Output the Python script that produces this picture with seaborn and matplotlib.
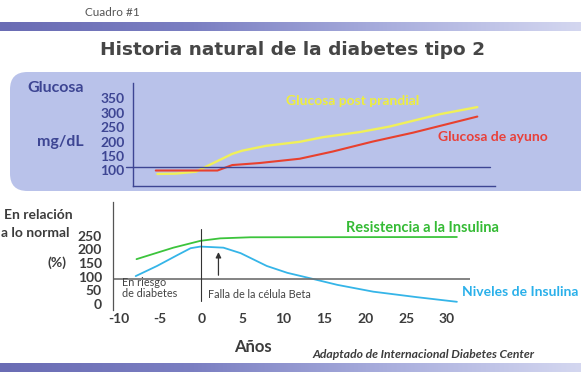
import numpy as np
import matplotlib.pyplot as plt
import seaborn as sns
from matplotlib.patches import FancyBboxPatch
from matplotlib.colors import LinearSegmentedColormap

anios_ayuno = [-5.4, 2.1, 3.9, 7.2, 12.1, 16.1, 21.0, 25.9, 29.1, 33.7]
glucosa_ayuno = [99, 99, 118, 125, 140, 165, 200, 231, 254, 287]

anios_prandial = [-5.2, -3.0, -0.5, 1.1, 3.9, 5.1, 8.0, 12.1, 14.9, 19.4, 23.0, 29.1, 33.7]
glucosa_prandial = [87, 88, 95, 118, 157, 168, 185, 199, 215, 233, 252, 295, 320]

anios_resist = [-7.9, -3.4, -0.1, 2.3, 6.0, 31.2]
resistencia = [164, 206, 231, 240, 244, 245]

anios_insulina = [-8.0, -5.4, -2.9, -1.3, -0.1, 2.7, 4.8, 8.0, 10.5, 13.3, 16.6, 21.0, 26.3, 31.2]
insulina = [102, 139, 179, 204, 210, 206, 186, 139, 114, 94, 70, 45, 25, 8]

ticks_anios = [-10, -5, 0, 5, 10, 15, 20, 25, 30]
ticks_glucosa = [100, 150, 200, 250, 300, 350]
ticks_relacion = [0, 50, 100, 150, 200, 250]

sns.set_theme(style="white")
plt.rcParams['font.family'] = ['Lato', 'DejaVu Sans']
plt.rcParams['axes.unicode_minus'] = False

W, H = 581, 380
fig = plt.figure(figsize=(W / 100, H / 100), dpi=100)
fig.patch.set_facecolor('white')

def caja(x0, y0, x1, y1):
    # pixeles (origen arriba-izquierda) -> fraccion de figura
    return [x0 / W, 1 - y1 / H, (x1 - x0) / W, (y1 - y0) / H]

# barras con degradado arriba y abajo
grad_cmap = LinearSegmentedColormap.from_list('barra', ['#6a6cb4', '#7b7fc2', '#a9aedd', '#d4d7f0'])
grad = np.linspace(0, 1, 256).reshape(1, -1)
for y0, y1 in [(22, 31), (363, 372)]:
    axb = fig.add_axes(caja(0, y0, W, y1))
    axb.imshow(grad, aspect='auto', cmap=grad_cmap)
    axb.axis('off')

fig.text(85 / W, 1 - 13 / H, 'Cuadro #1', fontsize=8.5, color='#555555', va='center')
fig.text(293 / W, 1 - 50 / H, 'Historia natural de la diabetes tipo 2', fontsize=13.3,
         fontweight='bold', color='#464646', ha='center', va='center', family='DejaVu Sans')

# fondo azul del panel de glucosa
fig.patches.append(FancyBboxPatch((10 / W, 1 - 191 / H), 600 / W, 119 / H,
                                  boxstyle='round,pad=0,rounding_size=0.03',
                                  transform=fig.transFigure, facecolor='#b9c2ea',
                                  edgecolor='none', zorder=-1, mutation_aspect=W / H))

navy = '#3d4593'
ax1 = fig.add_axes(caja(133, 83, 495, 186))
ax1.patch.set_alpha(0)
sns.lineplot(x=anios_prandial, y=glucosa_prandial, ax=ax1, color='#f0f05a', lw=1.7, estimator=None)
sns.lineplot(x=anios_ayuno, y=glucosa_ayuno, ax=ax1, color='#e8402e', lw=1.5, estimator=None)
ax1.axhline(110, xmin=-0.02, xmax=0.986, color=navy, lw=1, clip_on=False)
ax1.set_xlim(-8.17, 35.85)
ax1.set_ylim(45, 404)
ax1.set_xticks([])
ax1.set_yticks(ticks_glucosa)
ax1.tick_params(axis='y', length=0, pad=6, labelsize=10, labelcolor=navy)
for t in ax1.get_yticklabels():
    t.set_fontweight('bold')
for s in ['top', 'right']:
    ax1.spines[s].set_visible(False)
for s in ['left', 'bottom']:
    ax1.spines[s].set_color(navy)
    ax1.spines[s].set_linewidth(1)

fig.text(56 / W, 1 - 88 / H, 'Glucosa', fontsize=11.5, fontweight='bold', color=navy, ha='center', va='center')
fig.text(60 / W, 1 - 142 / H, 'mg/dL', fontsize=11.5, fontweight='bold', color=navy, ha='center', va='center')
fig.text(353 / W, 1 - 101 / H, 'Glucosa post prandial', fontsize=10, fontweight='bold',
         color='#eeee3c', ha='center', va='center')
fig.text(493 / W, 1 - 137 / H, 'Glucosa de ayuno', fontsize=10, fontweight='bold',
         color='#e8403a', ha='center', va='center')

# panel de insulina
gris = '#3c3c3c'
ax2 = fig.add_axes(caja(113, 202, 470, 310))
ax2.patch.set_alpha(0)
sns.lineplot(x=anios_resist, y=resistencia, ax=ax2, color='#3cc43c', lw=1.3, estimator=None)
sns.lineplot(x=anios_insulina, y=insulina, ax=ax2, color='#35b5e8', lw=1.3, estimator=None)
ax2.axhline(93, color='#6e6e6e', lw=1.2)
ax2.plot([0, 0], [10, 275], color='#333333', lw=0.8)
ax2.annotate('', xy=(2.1, 200), xytext=(2.1, 95),
             arrowprops=dict(arrowstyle='-|>', color='#333333', lw=0.9, mutation_scale=8))
ax2.set_xlim(-10.77, 32.8)
ax2.set_ylim(-22, 373)
ax2.set_xticks(ticks_anios)
ax2.set_yticks(ticks_relacion)
ax2.tick_params(length=0, labelsize=10, labelcolor=gris)
ax2.tick_params(axis='x', pad=2)
ax2.tick_params(axis='y', pad=8)
for t in ax2.get_xticklabels() + ax2.get_yticklabels():
    t.set_fontweight('bold')
for s in ['top', 'right', 'bottom']:
    ax2.spines[s].set_visible(False)
ax2.spines['left'].set_color('#555555')
ax2.spines['left'].set_linewidth(0.9)

ax2.text(-9.7, 60, 'En riesgo\nde diabetes', fontsize=7.8, color='#444444', va='center', linespacing=1.0)
ax2.text(0.8, 36, 'Falla de la célula Beta', fontsize=7.8, color='#444444', va='center')

fig.text(4 / W, 1 - 215 / H, 'En relación', fontsize=10, fontweight='bold', color=gris, va='center')
fig.text(1 / W, 1 - 233 / H, 'a lo normal', fontsize=10, fontweight='bold', color=gris, va='center')
fig.text(67 / W, 1 - 263 / H, '(%)', fontsize=10, fontweight='bold', color=gris, ha='right', va='center')
fig.text(422 / W, 1 - 228 / H, 'Resistencia a la Insulina', fontsize=10.5, fontweight='bold',
         color='#35bb35', ha='center', va='center')
fig.text(520 / W, 1 - 292 / H, 'Niveles de Insulina', fontsize=10, fontweight='bold',
         color='#2ab0ea', ha='center', va='center')
fig.text(253 / W, 1 - 347 / H, 'Años', fontsize=12, fontweight='bold', color=gris, ha='center', va='center')
fig.text(423 / W, 1 - 354 / H, 'Adaptado de Internacional Diabetes Center', fontsize=8.7,
         fontweight='bold', fontstyle='italic', color=gris, ha='center', va='center')

fig.savefig('out.png', dpi=100)
